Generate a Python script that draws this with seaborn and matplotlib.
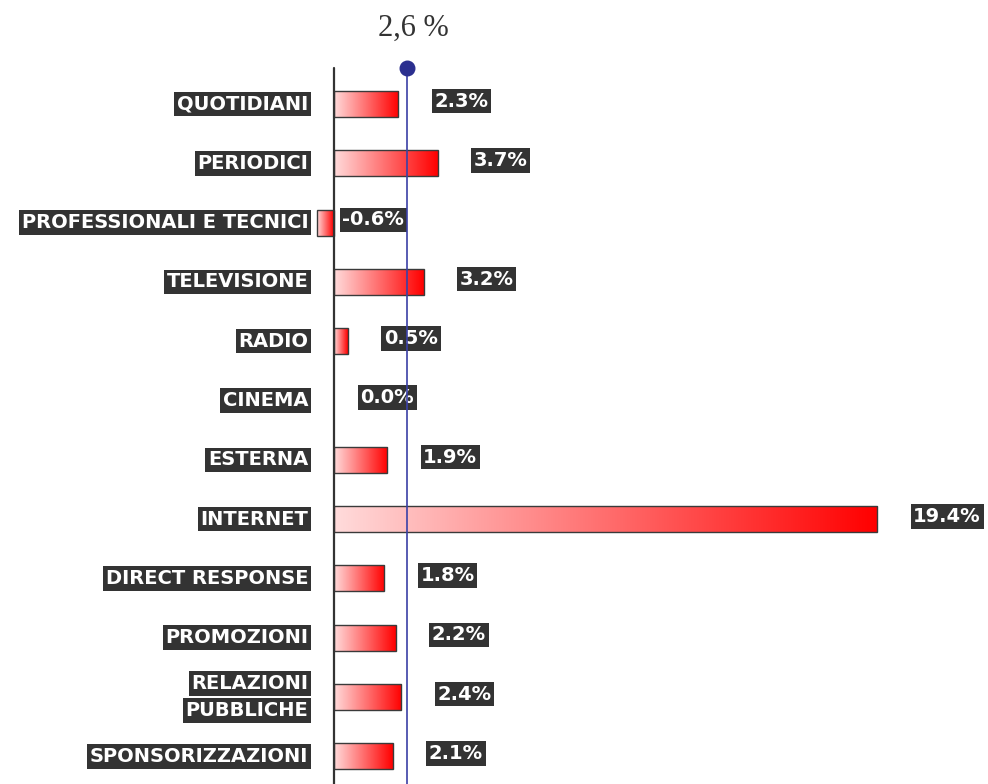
import numpy as np
import pandas as pd
import matplotlib
matplotlib.use("Agg")
import matplotlib.pyplot as plt
import seaborn as sns

# media categories and growth rates (%)
categories = ["QUOTIDIANI", "PERIODICI", "PROFESSIONALI E TECNICI", "TELEVISIONE",
              "RADIO", "CINEMA", "ESTERNA", "INTERNET", "DIRECT RESPONSE",
              "PROMOZIONI", "RELAZIONI\nPUBBLICHE", "SPONSORIZZAZIONI"]
values = [2.3, 3.7, -0.6, 3.2, 0.5, 0.0, 1.9, 19.4, 1.8, 2.2, 2.4, 2.1]
value_labels = ["2.3%", "3.7%", "-0.6%", "3.2%", "0.5%", "0.0%", "1.9%",
                "19.4%", "1.8%", "2.2%", "2.4%", "2.1%"]
average = 2.6
average_label = "2,6 %"

df = pd.DataFrame({"cat": categories, "val": values})

sns.set_style("white")
fig = plt.figure(figsize=(9.88, 7.84), dpi=100)
ax = fig.add_axes([0, 0, 1, 1])

sns.barplot(data=df, x="val", y="cat", orient="h", ax=ax, width=0.44,
            color="red", edgecolor="#3a3a3a", linewidth=1.0)

# scale: zero at 334px, 28px per percent; rows start at 104px, 59.3px apart
px = 28.0
ax.set_xlim(-334 / px, (988 - 334) / px)
row = 59.3
ax.set_ylim((784 - 104) / row, -104 / row)
ax.axis("off")

# red gradient inside each bar
grad = np.zeros((1, 256, 4))
grad[0, :, 0] = 1.0
grad[0, :, 1] = np.linspace(0.86, 0.0, 256)
grad[0, :, 2] = np.linspace(0.86, 0.0, 256)
grad[0, :, 3] = 1.0
for p in ax.patches:
    x0, y0 = p.get_x(), p.get_y()
    w, h = p.get_width(), p.get_height()
    if abs(w) < 1e-9:
        p.set_visible(False)
        continue
    p.set_facecolor("none")
    left, right = min(x0, x0 + w), max(x0, x0 + w)
    im = ax.imshow(grad, extent=[left, right, y0 + h, y0], aspect="auto",
                   zorder=p.get_zorder() - 0.1)
    im.set_clip_path(p)

# zero axis and average line
top_y = -(104 - 68) / row
ax.plot([0, 0], [top_y, ax.get_ylim()[0]], color="#333333", lw=1.6, zorder=5)
ax.plot([average, average], [top_y, ax.get_ylim()[0]], color="#3b40a6", lw=1.2, zorder=5)
ax.scatter([average], [top_y], s=110, color="#2b2f8f", zorder=6)
ax.text(average + 0.25, -(104 - 28) / row, average_label, ha="center", va="center",
        fontsize=22, family="Liberation Serif", color="#333333")

box = dict(facecolor="#333333", edgecolor="none", pad=2.0)

# category labels
for i, cat in enumerate(categories):
    lines = cat.split("\n")
    n = len(lines)
    for k, line in enumerate(lines):
        dy = (k - (n - 1) / 2) * -19.5
        ax.annotate(line, xy=(0, i), xytext=(-18.5, dy), textcoords="offset points",
                    ha="right", va="center", fontsize=14, fontweight="bold",
                    color="white", bbox=box, family="DejaVu Sans")

# value labels
for i, (v, lab) in enumerate(zip(values, value_labels)):
    off = 26 if v > 0 else (19 if v == 0 else 6)
    ax.annotate(lab, xy=(max(v, 0), i), xytext=(off, 2), textcoords="offset points",
                ha="left", va="center", fontsize=14, fontweight="bold",
                color="white", bbox=box, family="DejaVu Sans")

fig.savefig("out.png", dpi=100)
